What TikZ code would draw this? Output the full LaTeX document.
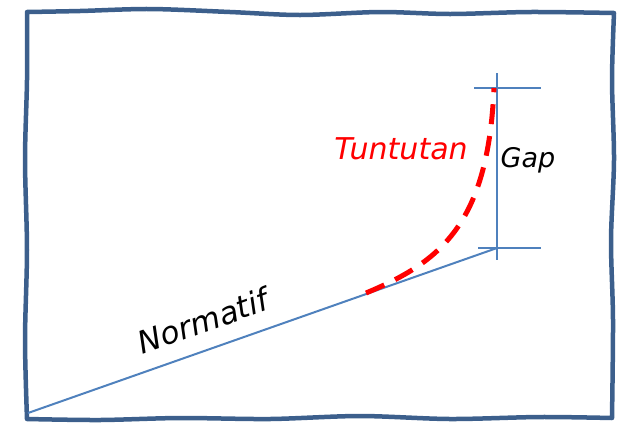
\documentclass[tikz,border=0pt]{standalone}
\usepackage{fontspec}
\setmainfont{DejaVu Sans}
\begin{document}
\begin{tikzpicture}[x=1pt,y=-1pt,
  frame/.style={line width=4.5pt,draw={rgb,255:red,60;green,95;blue,140},line join=round,line cap=round},
  bline/.style={draw={rgb,255:red,79;green,129;blue,189},line width=2pt},
  tline/.style={draw={rgb,255:red,79;green,129;blue,189},line width=1.3pt},
  redd/.style={draw=red,line width=5pt,dash pattern=on 20pt off 12pt},
  lbl/.style={font=\fontsize{27}{30}\selectfont\itshape,inner sep=0pt}]
\useasboundingbox (0,0) rectangle (626,424);
% sketchy frame
\draw[frame] plot[smooth] coordinates {(27,12) (80,11) (150,9) (230,12) (300,15) (380,12) (450,14) (530,12) (614,13)}
  -- plot[smooth] coordinates {(614,13) (612,80) (614,160) (611,240) (613,320) (612,418)}
  -- plot[smooth] coordinates {(612,418) (540,417) (450,419) (360,416) (270,419) (180,418) (100,420) (27,419)}
  -- plot[smooth] coordinates {(27,419) (25,340) (27,250) (25,160) (27,80) (27,12)} -- cycle;
% lines
\coordinate (o) at (28,413);
\coordinate (g) at (497,248);
\coordinate (vt) at (497,73);
\coordinate (vb) at (497,260);
\coordinate (tl) at (474,88);
\coordinate (tr) at (541,88);
\coordinate (bl) at (478,248);
\coordinate (br) at (541,248);
\draw[bline] (o) -- (g);
\draw[tline] (vt) -- (vb);
\draw[tline] (tl) -- (tr);
\draw[tline] (bl) -- (br);
% red dashed
\coordinate (rs) at (366,293);
\coordinate (re) at (494,88);
\draw[redd] (rs) .. controls (440,262) and (488,225) .. (re);
% labels
\node[lbl,text=red,font=\fontsize{30}{33}\selectfont\itshape] (tun) at (401,149) {Tuntutan};
\node[lbl] (gap) at (528,160) {Gap};
\node[lbl,rotate=19.4,font=\fontsize{31}{34}\selectfont\itshape] (norm) at (203,321) {Normatif};
\end{tikzpicture}
\end{document}
